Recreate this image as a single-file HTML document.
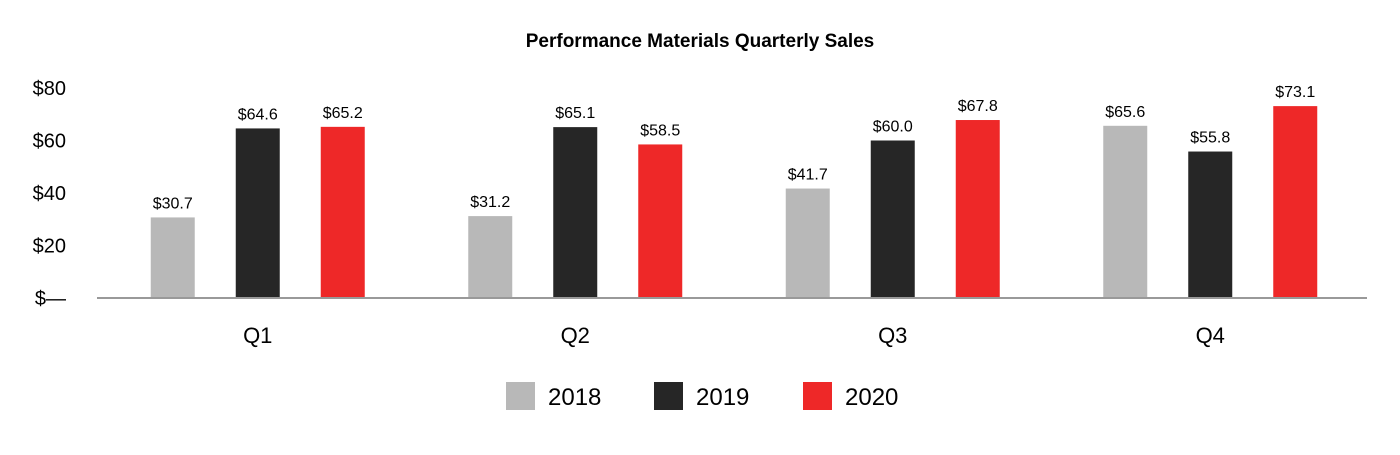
<!DOCTYPE html>
<html><head><meta charset="utf-8"><style>
body{margin:0;background:#fff;width:1400px;height:450px;overflow:hidden;font-family:"Liberation Sans",Arial,sans-serif}
</style></head><body>
<svg id="chart" width="1400" height="450" xmlns="http://www.w3.org/2000/svg" font-family="Liberation Sans, Arial, sans-serif">
<text x="700" y="47" text-anchor="middle" font-size="19" font-weight="bold" fill="#000">Performance Materials Quarterly Sales</text>
<g id="yaxis"></g><g id="bars"></g><g id="xaxis"></g><g id="legend"></g>
</svg>
<script>
const categories=["Q1","Q2","Q3","Q4"];
const seriesNames=["2018","2019","2020"];
const s2018=[30.7,31.2,41.7,65.6];
const s2019=[64.6,65.1,60.0,55.8];
const s2020=[65.2,58.5,67.8,73.1];
const yTicks=[0,20,40,60,80];
const yTickLabels=["$—","$20","$40","$60","$80"];
const colors=["#b8b8b8","#262626","#ee2828"];
const NS="http://www.w3.org/2000/svg";
const x0=97,x1=1367,y0=298,yTop=88,yMax=80;
const y=v=>y0-(v/yMax)*(y0-yTop);
const bandW=(x1-x0)/categories.length;
const xc=i=>x0+2+bandW*(i+0.5);
function mk(tag,attrs,parent,text){const e=document.createElementNS(NS,tag);for(const k in attrs)e.setAttribute(k,attrs[k]);if(text!=null)e.textContent=text;parent.appendChild(e);return e;}
const ya=document.getElementById('yaxis');
yTicks.forEach((t,i)=>{const e=mk('text',{x:66,y:y(t)+7,'text-anchor':'end','font-size':20,fill:'#000'},ya,yTickLabels[i]);

});
const bg=document.getElementById('bars');
const all=[s2018,s2019,s2020];
categories.forEach((c,i)=>{all.forEach((s,j)=>{const cx=xc(i)+(j-1)*85;const v=s[i];
const r=mk('rect',{x:cx-22,y:y(v),width:44,height:y0-y(v),fill:colors[j]},bg);


const t=mk('text',{x:cx,y:y(v)-9,'text-anchor':'middle','font-size':16,fill:'#000'},bg,'$'+v.toFixed(1));

});});
const xa=document.getElementById('xaxis');
const ln=mk('line',{x1:x0,y1:y0,x2:x1,y2:y0,stroke:'#999','stroke-width':2},xa);


categories.forEach((c,i)=>{const t=mk('text',{x:xc(i),y:343,'text-anchor':'middle','font-size':22,fill:'#000'},xa,c);

});
const lg=document.getElementById('legend');
const lx=[506,654,803];
seriesNames.forEach((n,j)=>{const r=mk('rect',{x:lx[j],y:382,width:29,height:28,fill:colors[j]},lg);


const t=mk('text',{x:lx[j]+42,y:405,'font-size':24,fill:'#000'},lg,n);

});
</script>
</body></html>
